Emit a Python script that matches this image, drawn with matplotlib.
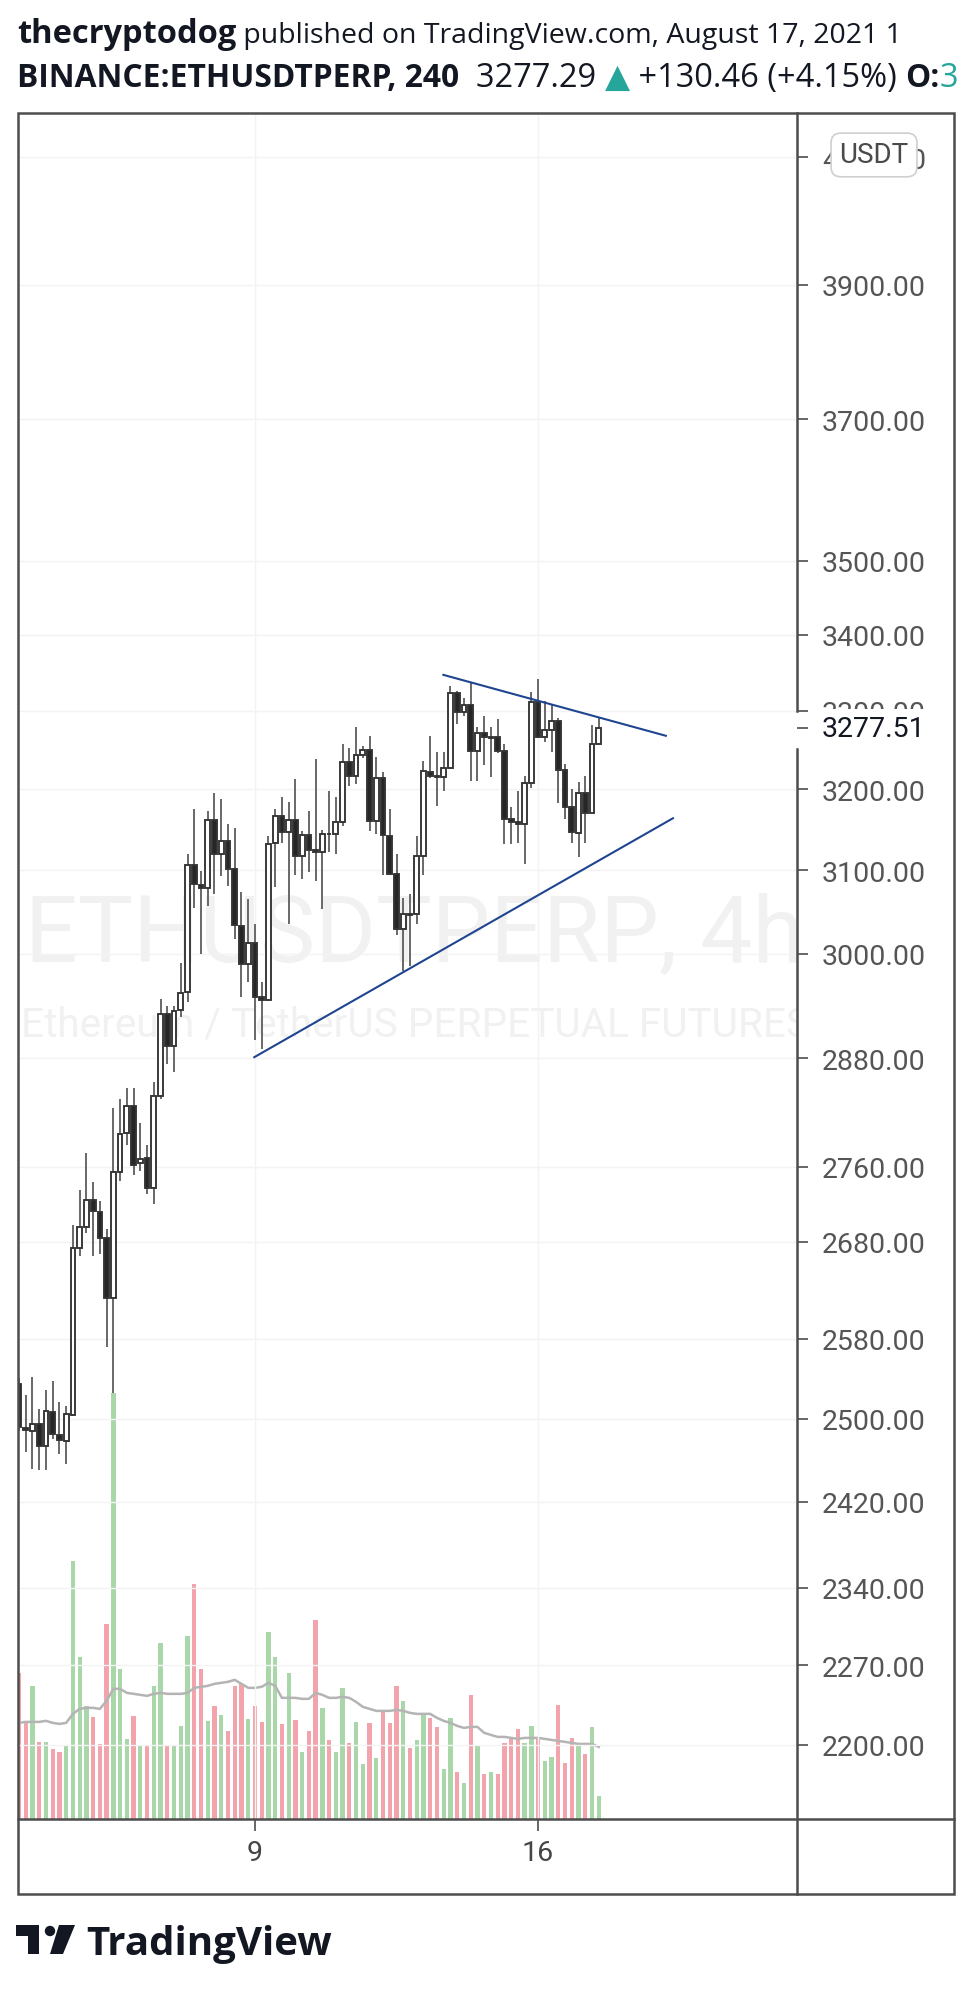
import numpy as np
import matplotlib
matplotlib.use("Agg")
import matplotlib.pyplot as plt
from matplotlib.ticker import FixedLocator, NullFormatter, FuncFormatter
from matplotlib.transforms import blended_transform_factory
from matplotlib.patches import Rectangle, Polygon, Circle

# 4h candles, BINANCE:ETHUSDTPERP, Aug 3 -> Aug 17 2021
opens = [2534, 2491, 2488, 2495, 2474, 2507, 2484, 2478, 2504, 2673,
         2695, 2724, 2711, 2684, 2621, 2754, 2797, 2826, 2764, 2769,
         2737, 2838, 2930, 2894, 2935, 2956, 3107, 3082, 3079, 3162,
         3120, 3136, 3102, 3033, 2988, 3013, 2950, 2946, 3133, 3167,
         3147, 3162, 3118, 3143, 3125, 3122, 3145, 3144, 3159, 3235,
         3217, 3243, 3250, 3161, 3214, 3142, 3095, 3029, 3047, 3047,
         3118, 3222, 3217, 3216, 3227, 3323, 3299, 3308, 3248, 3271,
         3265, 3266, 3248, 3163, 3159, 3157, 3208, 3312, 3266, 3275,
         3287, 3224, 3178, 3146, 3195, 3171, 3258]
highs = [2540, 2524, 2541, 2510, 2529, 2537, 2517, 2513, 2698, 2735,
         2775, 2743, 2723, 2693, 2824, 2834, 2846, 2846, 2808, 2784,
         2853, 2948, 2939, 2939, 2989, 3120, 3175, 3099, 3173, 3196,
         3188, 3157, 3152, 3074, 3065, 3036, 2967, 3142, 3176, 3191,
         3184, 3213, 3148, 3173, 3238, 3150, 3198, 3191, 3258, 3253,
         3279, 3255, 3268, 3241, 3222, 3175, 3120, 3066, 3072, 3142,
         3236, 3268, 3247, 3247, 3332, 3326, 3317, 3338, 3279, 3294,
         3279, 3290, 3257, 3178, 3198, 3217, 3325, 3342, 3313, 3309,
         3291, 3232, 3201, 3209, 3217, 3282, 3292]
lows = [2488, 2468, 2451, 2450, 2450, 2480, 2466, 2456, 2503, 2665,
        2689, 2665, 2667, 2572, 2526, 2744, 2784, 2751, 2755, 2731,
        2720, 2834, 2873, 2864, 2927, 2944, 3055, 3000, 3057, 3072,
        3093, 3081, 3018, 2950, 2967, 2901, 2890, 2945, 3080, 3134,
        3035, 3094, 3090, 3098, 3087, 3053, 3122, 3120, 3154, 3204,
        3207, 3240, 3148, 3144, 3094, 3094, 3023, 2980, 2986, 3035,
        3094, 3214, 3179, 3198, 3226, 3283, 3294, 3210, 3211, 3231,
        3216, 3246, 3132, 3132, 3134, 3108, 3202, 3265, 3260, 3247,
        3183, 3163, 3133, 3116, 3134, 3170, 3258]
closes = [2492, 2489, 2495, 2474, 2508, 2485, 2479, 2505, 2673, 2695,
          2724, 2712, 2684, 2621, 2754, 2795, 2826, 2762, 2768, 2737,
          2837, 2930, 2894, 2934, 2955, 3107, 3083, 3079, 3162, 3120,
          3136, 3102, 3034, 2988, 3013, 2950, 2946, 3132, 3167, 3147,
          3162, 3118, 3143, 3125, 3122, 3145, 3144, 3159, 3235, 3217,
          3243, 3250, 3161, 3214, 3143, 3095, 3029, 3047, 3046, 3118,
          3223, 3217, 3216, 3227, 3323, 3299, 3308, 3248, 3272, 3266,
          3266, 3248, 3163, 3159, 3157, 3208, 3312, 3266, 3275, 3287,
          3225, 3178, 3147, 3195, 3171, 3257, 3277.51]
volumes = [146, 96, 133, 77, 77, 70, 67, 73, 258, 162,
           113, 102, 75, 195, 426, 150, 80, 103, 74, 74,
           133, 176, 74, 74, 93, 183, 235, 150, 98, 113,
           104, 88, 133, 135, 100, 113, 97, 187, 162, 95,
           146, 99, 67, 88, 199, 111, 79, 67, 131, 76,
           97, 55, 96, 61, 107, 96, 133, 118, 71, 79,
           105, 101, 92, 50, 101, 47, 36, 124, 73, 45,
           47, 45, 76, 80, 90, 76, 93, 81, 58, 62,
           114, 56, 81, 75, 65, 92, 23]
volume_ma = [96, 97, 97, 97, 98, 96, 95, 96, 105, 110,
             111, 111, 110, 118, 130, 130, 126, 125, 124, 123,
             125, 126, 125, 125, 125, 126, 131, 132, 133, 135,
             136, 137, 139, 135, 131, 131, 132, 136, 133, 121,
             121, 121, 120, 120, 126, 124, 121, 121, 122, 121,
             117, 112, 110, 108, 108, 108, 109, 108, 106, 105,
             105, 105, 101, 98, 96, 93, 91, 92, 92, 86,
             84, 82, 82, 81, 80, 81, 81, 81, 80, 79,
             78, 77, 76, 75, 75, 75, 72]
price_ticks = [2200, 2270, 2340, 2420, 2500, 2580, 2680, 2760, 2880,
               3000, 3100, 3200, 3300, 3400, 3500, 3700, 3900, 4100]
day_ticks = [35, 77]
day_labels = ["9", "16"]
upper_line_x = [62.95, 95.95]
upper_line_y = [3347, 3268]
lower_line_x = [34.9, 97.0]
lower_line_y = [2881, 3164]
last_price = 3277.51

plt.rcParams["font.family"] = ["Roboto", "DejaVu Sans"]

W, H = 972, 1990
fig = plt.figure(figsize=(W / 100, H / 100), dpi=100)
fig.patch.set_facecolor("white")

# pane edges in pixels
L, R, T, B = 17.5, 797, 114, 1820
RB, BB = 954, 1895

ax = fig.add_axes([L / W, 1 - B / H, (R - L) / W, (B - T) / H])
axv = ax.twinx()
ax.set_zorder(axv.get_zorder() + 1)
ax.patch.set_visible(False)
for a in (ax, axv):
    for s in a.spines.values():
        s.set_visible(False)

x = np.arange(len(opens))
o = np.array(opens, float)
h = np.array(highs, float)
lo = np.array(lows, float)
c = np.array(closes, float)
up = c >= o

# volume
vcol = np.where(up, "#aad7aa", "#f2a3ab")
axv.bar(x, volumes, width=0.64, color=vcol, zorder=1)
axv.plot(x, volume_ma, color="#b4b4b4", lw=1.8, zorder=2)
axv.set_ylim(0, max(volumes) * 4.0)
axv.set_yticks([])
axv.tick_params(right=False, labelright=False)

# candles
ax.vlines(x, lo, h, color="#686868", lw=1.4, zorder=3)
bot = np.minimum(o, c)
ht = np.abs(c - o)
ax.bar(x[up], ht[up], bottom=bot[up], width=0.7, color="white",
       edgecolor="#333333", lw=1.35, zorder=4)
ax.bar(x[~up], ht[~up], bottom=bot[~up], width=0.7, color="#262626",
       edgecolor="#333333", lw=1.35, zorder=4)

ax.plot(upper_line_x, upper_line_y, color="#1f4590", lw=1.5, zorder=5)
ax.plot(lower_line_x, lower_line_y, color="#1f4590", lw=1.5, zorder=5)

ax.set_yscale("log")
ax.set_ylim(2137, 4172)
ax.set_xlim(-0.22, 115.4)
ax.yaxis.tick_right()
ax.yaxis.set_major_locator(FixedLocator(price_ticks))
ax.yaxis.set_major_formatter(FuncFormatter(lambda v, p: f"{v:.2f}"))
ax.yaxis.set_minor_locator(FixedLocator([last_price]))
ax.yaxis.set_minor_formatter(NullFormatter())
ax.tick_params(axis="y", which="both", direction="out", length=8, width=1.2,
               color="#4d4d4d", pad=10, labelsize=20.5, labelcolor="#555555")
ax.set_xticks(day_ticks)
ax.set_xticklabels(day_labels)
ax.tick_params(axis="x", which="both", direction="out", length=8.6, width=1.2,
               color="#4d4d4d", pad=6, labelsize=20.5, labelcolor="#454545")
ax.xaxis.set_minor_locator(FixedLocator([]))
ax.grid(True, which="major", color="#f3f3f3", lw=1)

# watermark
ax.text(0.0096, 0.503, "ETHUSDTPERP, 4h", transform=ax.transAxes, fontsize=67,
        color="#f1f1f1", va="baseline", ha="left", zorder=0.5, clip_on=True)
ax.text(0.005, 0.459, "Ethereum / TetherUS PERPETUAL FUTURES", transform=ax.transAxes,
        fontsize=29.2, color="#f1f1f1", va="baseline", ha="left", zorder=0.5, clip_on=True)

# last price label and currency badge
tr = blended_transform_factory(ax.transAxes, ax.transData)
ax.text(1.032, last_price, f"{last_price:.2f}", transform=tr, va="center", ha="left",
        fontsize=20.5, color="#131722", clip_on=False, zorder=6,
        bbox=dict(fc="white", ec="none", pad=4))
ax.text(1.0988, 0.9754, "USDT", transform=ax.transAxes, ha="center", va="center",
        fontsize=20, color="#4a4a4a", clip_on=False, zorder=6,
        bbox=dict(boxstyle="round,pad=0.3,rounding_size=0.35", fc="white",
                  ec="#cfcfcf", lw=1.2))

# frame
fr = fig.add_axes([0, 0, 1, 1], zorder=10)
fr.set_xlim(0, W)
fr.set_ylim(H, 0)
fr.axis("off")
fr.patch.set_visible(False)
fcol = "#4d4d4d"
fr.add_patch(Rectangle((L, T), RB - L, BB - T, fill=False, ec=fcol, lw=1.8))
fr.plot([R, R], [T, 712], color=fcol, lw=1.8)
fr.plot([R, R], [750, BB], color=fcol, lw=1.8)
fr.plot([L, RB], [B, B], color=fcol, lw=1.8)

# TradingView logo
fr.add_patch(Polygon([(16, 1926), (39, 1926), (39, 1955), (28, 1955), (28, 1937), (16, 1937)],
                     closed=True, fc="#131722", ec="none"))
fr.add_patch(Circle((50, 1932), 5.2, fc="#131722", ec="none"))
fr.add_patch(Polygon([(59, 1926), (75, 1926), (63, 1955), (50, 1955)],
                     closed=True, fc="#131722", ec="none"))
fig.text(86 / W, 1 - 1955 / H, "TradingView", fontsize=29, fontweight="bold",
         family=["Open Sans", "DejaVu Sans"], color="#131722", va="baseline")

# header
rend = fig.canvas.get_renderer()


def put(xpx, ypx, s, **kw):
    t = fig.text(xpx / W, 1 - ypx / H, s, va="baseline", ha="left",
                 family=["Open Sans", "DejaVu Sans"], **kw)
    bb = t.get_window_extent(rend)
    return bb.x1


hb, hn = 23.5, 20.5
xp = put(17, 43, "thecryptodog", fontsize=hb, fontweight="bold", color="#131722")
put(xp, 43, " published on TradingView.com, August 17, 2021 1", fontsize=hn, color="#131722")

hb2, hn2 = 22.9, 23.5
xp = put(17, 87, "BINANCE:ETHUSDTPERP, 240", fontsize=hb2, fontweight="bold", color="#131722")
xp = put(xp, 87, "  3277.29 ", fontsize=hn2, color="#131722")
xp = put(xp, 87, "\u25B2", fontsize=hn2, color="#26a69a")
xp = put(xp, 87, " +130.46 (+4.15%) ", fontsize=hn2, color="#131722")
xp = put(xp, 87, "O:", fontsize=hb2, fontweight="bold", color="#131722")
put(xp, 87, "3", fontsize=hn2, color="#26a69a")

fig.savefig("out.png", dpi=100, facecolor="white")
